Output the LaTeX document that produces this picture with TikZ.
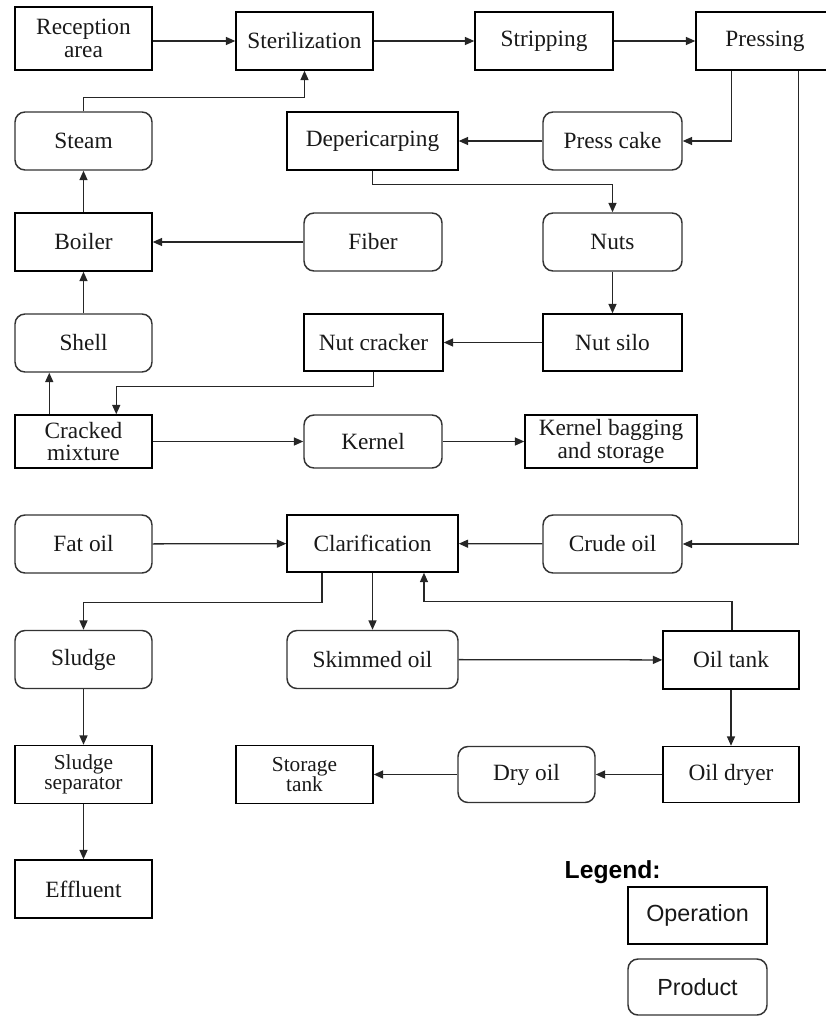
\documentclass[tikz,border=0pt]{standalone}
\usepackage{fontspec}
\setmainfont{Liberation Serif}
\newfontfamily\legendfont{Liberation Sans}
\usetikzlibrary{arrows.meta}
\begin{document}
\begin{tikzpicture}[x=0.75pt,y=-0.75pt,
 base/.style={draw=black, line width=1.1pt, align=center, inner sep=0pt,
   font=\fontsize{17.5}{17}\selectfont, text=black!90},
 op/.style={base, rectangle},
 prod/.style={base, rectangle, rounded corners=7.5pt, draw=black!80},
 smalltext/.style={font=\fontsize{16}{15.5}\selectfont},
 legtext/.style={font=\legendfont\fontsize{17.5}{20}\selectfont},
 w/.style={minimum width=#1*0.75pt},
 h/.style={minimum height=#1*0.75pt},
 conn/.style={line width=0.95pt, draw=black!85, -{Triangle[length=7pt,width=6pt]}}
]
\useasboundingbox (0,0) rectangle (825,1016);

% row 1
\node[op,w=137,h=63] (rec) at (83.5,38.5) {Reception\\area};
\node[op,w=137,h=58] (ster) at (304.5,41) {Sterilization};
\node[op,w=138,h=58] (strip) at (544,41) {Stripping};
\node[op,w=138,h=58] (press) at (765,41) {Pressing};
% row 2
\node[prod,w=137,h=58] (steam) at (83.5,141) {Steam};
\node[op,w=171,h=58] (deper) at (372.5,141) {Depericarping};
\node[prod,w=139,h=58] (cake) at (612.5,141) {Press cake};
% row 3
\node[op,w=137,h=58] (boiler) at (83.5,242) {Boiler};
\node[prod,w=138,h=58] (fiber) at (373,242) {Fiber};
\node[prod,w=139,h=58] (nuts) at (612.5,242) {Nuts};
% row 4
\node[prod,w=137,h=58] (shell) at (83.5,343) {Shell};
\node[op,w=139,h=57] (cracker) at (373.5,342.5) {Nut cracker};
\node[op,w=139,h=57] (silo) at (612.5,342.5) {Nut silo};
% row 5
\node[op,w=137,h=53] (cracked) at (83.5,441.5) {Cracked\\mixture};
\node[prod,w=138,h=53] (kernel) at (373,441.5) {Kernel};
\node[op,w=172,h=53] (bag) at (611,441.5) {Kernel bagging\\and storage};
% row 6
\node[prod,w=137,h=58] (fat) at (83.5,544) {Fat oil};
\node[op,w=171,h=57] (clar) at (372.5,543.5) {Clarification};
\node[prod,w=139,h=58] (crude) at (612.5,544) {Crude oil};
% row 7
\node[prod,w=137,h=58] (sludge) at (83.5,659.5) {Sludge};
\node[prod,w=171,h=58] (skim) at (372.5,659.5) {Skimmed oil};
\node[op,w=136,h=58] (tank) at (731,660) {Oil tank};
% row 8
\node[op,w=137,h=58,smalltext] (sep) at (83.5,774.5) {Sludge\\separator};
\node[op,w=137,h=58,smalltext] (stor) at (304.5,774.5) {Storage\\tank};
\node[prod,w=137,h=56] (dry) at (526.5,774.5) {Dry oil};
\node[op,w=136,h=56] (dryer) at (731,774.5) {Oil dryer};
% row 9
\node[op,w=137,h=58] (eff) at (83.5,889) {Effluent};

% legend
\node[font=\legendfont\bfseries\fontsize{18.5}{20}\selectfont, anchor=west] (leg) at (560,872) {Legend:};
\node[op,legtext,w=139,h=57] (lop) at (697.5,915.5) {Operation};
\node[prod,legtext,w=139,h=56] (lprod) at (697.5,987) {Product};

% connectors
\draw[conn] (ster.west -| rec.east) -- (ster.west);
\draw[conn] (ster) -- (strip);
\draw[conn] (strip) -- (press);
\draw[conn] ([xshift=27pt]press.south west) |- (cake.east);
\draw[conn] ([xshift=77.25pt]press.south west) |- (crude.east);
\draw[conn] (cake) -- (deper);
\draw[conn] (deper.south) -- ++(0,14) -| (nuts.north);
\draw[conn] (steam.north) -- ++(0,-14) -| (ster.south);
\draw[conn] (boiler) -- (steam);
\draw[conn] (fiber) -- (boiler);
\draw[conn] (nuts) -- (silo);
\draw[conn] (silo) -- (cracker);
\draw[conn] (cracker.south) -- ++(0,15) -| ([xshift=76.5pt]cracked.north west);
\draw[conn] ([xshift=26.25pt]cracked.north west) -- ([xshift=26.25pt]shell.south west);
\draw[conn] (shell) -- (boiler);
\draw[conn] (cracked) -- (kernel);
\draw[conn] (kernel) -- (bag);
\draw[conn] (fat) -- (clar);
\draw[conn] (crude) -- (clar);
\draw[conn] ([xshift=-37.9pt]clar.south) -- ++(0,30) -| (sludge.north);
\draw[conn] (clar) -- (skim);
\draw[conn] ([xshift=0.75pt]tank.north) -- ++(0,-29) -| ([xshift=38.6pt]clar.south);
\draw[conn] (skim) -- (tank);
\draw[conn] (tank) -- (dryer);
\draw[conn] (dryer) -- (dry);
\draw[conn] (dry) -- (stor);
\draw[conn] (sludge) -- (sep);
\draw[conn] (sep) -- (eff);
\end{tikzpicture}
\end{document}
